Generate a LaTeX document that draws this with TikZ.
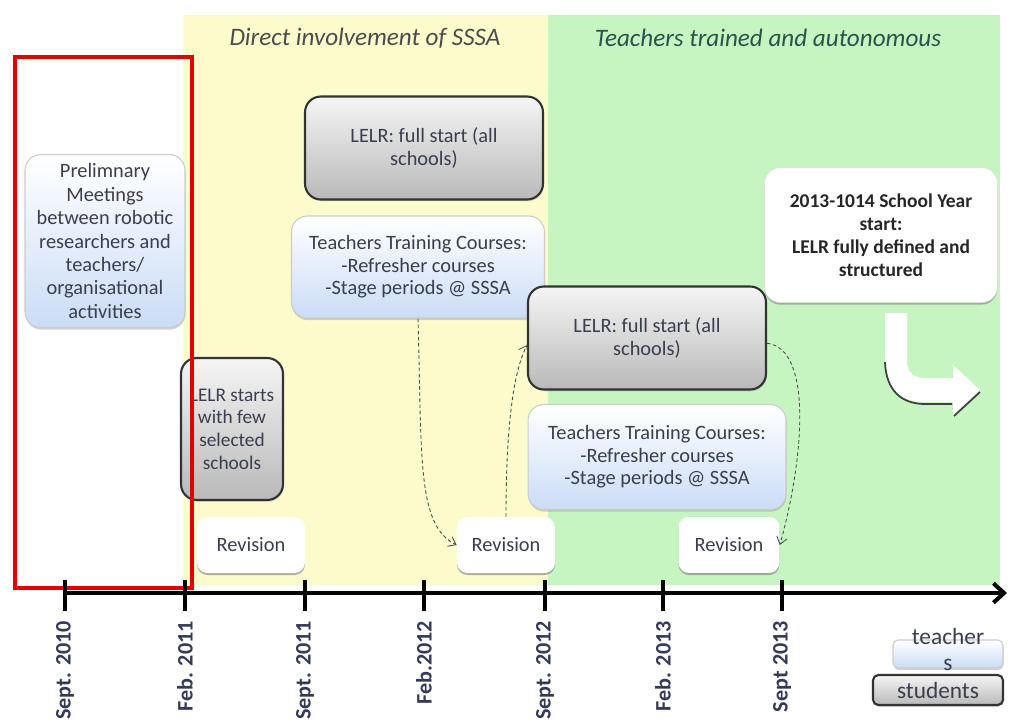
\documentclass[tikz,border=0pt]{standalone}
\usepackage{fontspec}
\setmainfont{Carlito}
\usetikzlibrary{arrows.meta,shadows}

\definecolor{phaseyellow}{RGB}{251,251,204}
\definecolor{phasegreen}{RGB}{198,245,194}
\definecolor{boxtext}{RGB}{58,62,78}
\definecolor{lightblue}{RGB}{203,220,246}
\definecolor{datecol}{RGB}{52,58,88}
\definecolor{titlegreen}{RGB}{40,84,74}

\tikzset{
	box/.style={rounded corners=9pt, align=center, text=boxtext, font=\fontsize{11.6}{12.9}\selectfont, inner sep=2pt},
	graybox/.style={box, draw=black!80, line width=1.2pt, top color=gray!8, bottom color=gray!55, drop shadow={opacity=0.3, shadow xshift=0.5pt, shadow yshift=-1pt}},
	bluebox/.style={box, draw=gray!40, line width=0.6pt, top color=white, bottom color=lightblue, drop shadow={opacity=0.35, shadow xshift=0.3pt, shadow yshift=-1.2pt}},
	whitebox/.style={box, fill=white, drop shadow={opacity=0.6, shadow xshift=0pt, shadow yshift=-1.2pt}},
	datelabel/.style={rotate=90, anchor=east, text=datecol, font=\fontsize{12.6}{14}\selectfont\bfseries, inner sep=1pt},
	phasetitle/.style={font=\fontsize{14.3}{16}\selectfont\itshape},
	flow/.style={gray!60!black, dash pattern=on 2pt off 1.5pt, line width=0.5pt, -{Straight Barb[length=4pt,width=6pt]}}
}

\begin{document}
\begin{tikzpicture}[x=0.02cm, y=-0.02cm]
	\useasboundingbox (0,0) rectangle (1009,727);
	\fill[white] (0,0) rectangle (1009,727);
	% phases
	\fill[phaseyellow] (183,15) rectangle (548,585);
	\fill[phasegreen] (548,15) rectangle (1000,585);
	\node[phasetitle, text=black!70] (title1) at (365,38) {Direct involvement of SSSA};
	\node[phasetitle, text=titlegreen] (title2) at (768,38) {Teachers trained and autonomous};

	% boxes
	\node[bluebox, minimum width=3.2cm, minimum height=3.46cm, font=\fontsize{11.6}{13.3}\selectfont] (prelim) at (105,241) {Prelimnary\\Meetings\\between robotic\\researchers and\\teachers/\\organisational\\activities};
	\node[graybox, minimum width=4.76cm, minimum height=2.06cm] (full1) at (424,148) {LELR: full start (all\\schools)};
	\node[bluebox, minimum width=5.06cm, minimum height=2.04cm] (train1) at (418,267) {Teachers Training Courses:\\-Refresher courses\\-Stage periods @ SSSA};
	\node[graybox, minimum width=2.04cm, minimum height=2.84cm, inner sep=1pt, font=\fontsize{11}{12.9}\selectfont] (few) at (232,429) {LELR starts\\with few\\selected\\schools};
	\node[graybox, minimum width=4.76cm, minimum height=2.06cm] (full2) at (647,338) {LELR: full start (all\\schools)};
	\node[bluebox, minimum width=5.16cm, minimum height=2.1cm] (train2) at (657,457) {Teachers Training Courses:\\-Refresher courses\\-Stage periods @ SSSA};
	\node[whitebox, draw=gray!25, font=\fontsize{11.1}{13}\selectfont\bfseries, text=black!85, minimum width=4.66cm, minimum height=2.7cm] (year) at (881,235) {2013-1014 School Year\\start:\\LELR fully defined and\\structured};
	\node[whitebox, rounded corners=6pt, minimum width=2.16cm, minimum height=1.12cm] (rev1) at (251,545) {Revision};
	\node[whitebox, rounded corners=6pt, minimum width=1.96cm, minimum height=1.12cm] (rev2) at (506,545) {Revision};
	\node[whitebox, rounded corners=6pt, minimum width=2.02cm, minimum height=1.12cm] (rev3) at (729,545) {Revision};

	% red frame
	\draw[red!90!black, line width=2.3pt] (15,57) rectangle (192,588);

	% connectors
	\draw[flow] (train1.south) .. controls +(4,140) and +(-40,-20) .. (rev2.west);
	\draw[flow] (rev2.north) .. controls +(0,-110) and +(-10,20) .. ([yshift=-4pt]full2.west);
	\draw[flow] ([yshift=-3pt]full2.east) .. controls +(45,5) and +(25,-90) .. (rev3.east);

	% bent arrow
	\fill[white] (885,313) -- (885,360) .. controls (885,388) and (900,402) .. (925,402) -- (953,402) -- (953,415) -- (980,390) -- (953,365) -- (953,378) -- (925,378) .. controls (913,378) and (907,372) .. (907,360) -- (907,313) -- cycle;
	\draw[black!75, line width=1pt] (885,362) .. controls (886,390) and (901,404) .. (925,404) -- (952,404);
	\draw[black!75, line width=1pt] (954,416) -- (980,392);

	% time axis
	\coordinate (axisstart) at (65,593);
	\coordinate (axisend) at (1007,593);
	\draw[line width=2.3pt, -{Straight Barb[length=6pt,width=11pt]}] (axisstart) -- (axisend);
	\foreach \x/\lab [count=\i] in {65/Sept. 2010, 185/Feb. 2011, 305/Sept. 2011, 424/Feb.2012, 545/Sept. 2012, 663/Feb. 2013, 782/Sept 2013}{
		\draw[line width=2.3pt] (\x,580) -- (\x,611);
		\node[datelabel] (date\i) at (\x,619) {\lab};
	}

	% legend
	\node[bluebox, rounded corners=3pt, minimum width=2.2cm, minimum height=0.56cm] (legteach) at (948,654) {};
	\node[graybox, rounded corners=3pt, minimum width=2.6cm, minimum height=0.6cm, font=\fontsize{13.3}{14}\selectfont] (legstud) at (938,690) {students};
	\node[anchor=north, text=boxtext, align=center, font=\fontsize{13.3}{14.5}\selectfont, inner sep=0pt] (legteachtxt) at (948,628) {teacher\\s};
\end{tikzpicture}
\end{document}
